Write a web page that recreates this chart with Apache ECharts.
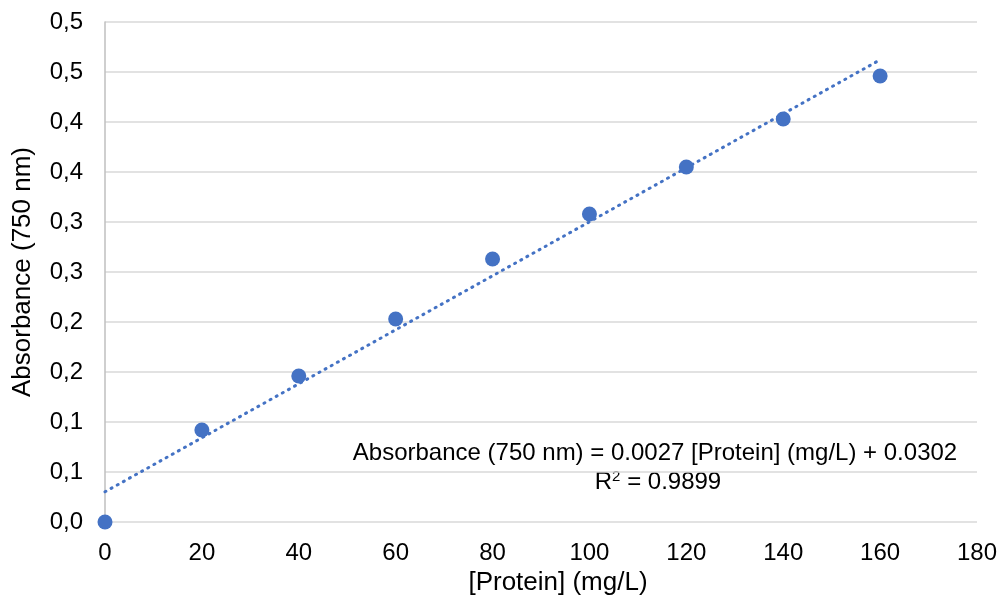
<!DOCTYPE html>
<html><head><meta charset="utf-8">
<script src="https://cdn.jsdelivr.net/npm/echarts@6/dist/echarts.min.js"></script>
<style>html,body{margin:0;padding:0;background:#fff}#c{width:1008px;height:604px}</style>
</head><body><div id="c"></div>
<script>
const proteinX = [0, 20, 40, 60, 80, 100, 120, 140, 160];
const absorbance = [0.0, 0.092, 0.146, 0.203, 0.263, 0.308, 0.355, 0.403, 0.446];
const trendX = [0, 160];
const trendY = [0.0302, 0.4622];
const yTickLabels = ['0,0','0,1','0,1','0,2','0,2','0,3','0,3','0,4','0,4','0,5','0,5'];
const xTickLabels = ['0','20','40','60','80','100','120','140','160','180'];
const equationText = 'Absorbance (750 nm) = 0.0027 [Protein] (mg/L) + 0.0302';
const r2Value = '0.9899';
const FONT = 'Liberation Sans, Arial, sans-serif';
const FS = 24;
const TFS = 26;
const chart = echarts.init(document.getElementById('c'));
chart.setOption({
  animation: false,
  grid: {left: 105, right: 31, top: 22, bottom: 82},
  xAxis: {
    type: 'value', min: 0, max: 180, interval: 20,
    name: '[Protein] (mg/L)', nameLocation: 'middle', nameGap: 41,
    nameTextStyle: {fontFamily: FONT, fontSize: TFS, color: '#000', padding: [0, 0, 0, 34]},
    axisLine: {show: false}, axisTick: {show: false}, splitLine: {show: false},
    axisLabel: {fontFamily: FONT, fontSize: FS, color: '#000', margin: 19,
      formatter: v => xTickLabels[Math.round(v / 20)]}
  },
  yAxis: {
    type: 'value', min: 0, max: 0.5, interval: 0.05,
    name: 'Absorbance (750 nm)', nameLocation: 'middle', nameGap: 69,
    nameTextStyle: {fontFamily: FONT, fontSize: TFS, color: '#000'},
    axisLine: {show: true, lineStyle: {color: '#bfbfbf', width: 1.5}},
    axisTick: {show: false},
    splitLine: {lineStyle: {color: '#d9d9d9', width: 1.5}},
    axisLabel: {fontFamily: FONT, fontSize: FS, color: '#000', margin: 22,
      formatter: v => yTickLabels[Math.round(v / 0.05)]}
  },
  series: [
    {type: 'line', data: trendX.map((x, i) => [x, trendY[i]]), symbol: 'none', silent: true,
     lineStyle: {color: '#4472C4', width: 3, type: [1, 6], cap: 'round'}, z: 2},
    {type: 'scatter', data: proteinX.map((x, i) => [x, absorbance[i]]), symbolSize: 15,
     itemStyle: {color: '#4472C4', opacity: 1}, z: 3}
  ],
  graphic: [
    {type: 'text', x: 655, y: 453,
     style: {text: equationText, align: 'center', verticalAlign: 'middle',
       fontFamily: FONT, fontSize: 24, fill: '#000'}},
    {type: 'text', x: 658, y: 482,
     style: {text: '{r|R}{s|2}{r| = ' + r2Value + '}', align: 'center', verticalAlign: 'middle',
       fontFamily: FONT, fontSize: 24, fill: '#000',
       rich: {r: {fontFamily: FONT, fontSize: 24, fill: '#000'},
              s: {fontFamily: FONT, fontSize: 15, fill: '#000', verticalAlign: 'top', padding: [0,0,10,0]}}}}
  ]
});
</script></body></html>
